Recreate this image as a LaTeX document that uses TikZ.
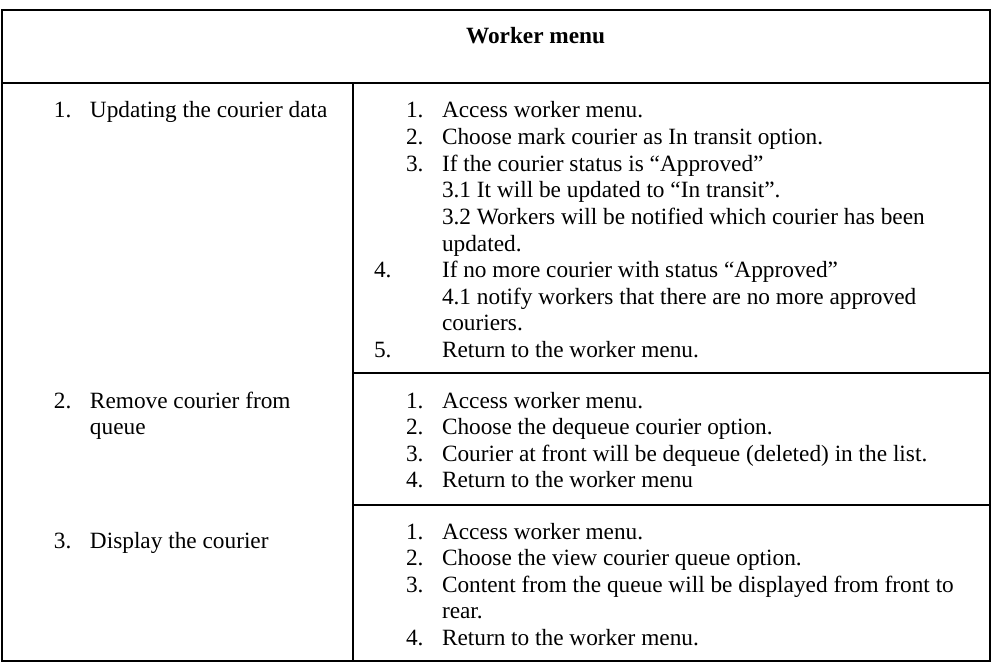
\documentclass[tikz,border=0pt]{standalone}
\usepackage{fontspec}
\setmainfont{Liberation Serif}
\usetikzlibrary{positioning}

\begin{document}
\begin{tikzpicture}[x=0.5pt, y=-0.5pt, line width=1pt,
    celltext/.style={anchor=base west, inner sep=0pt, font=\fontsize{11.65}{13.3}\selectfont},
    headtext/.style={celltext, font=\fontsize{11.65}{13.3}\selectfont\bfseries}]

\useasboundingbox (0,0) rectangle (993,664);

% Table frame and rules
\draw (2,10) rectangle (990,661);
\draw (2,83) -- (990,83);
\draw (353,83) -- (353,661);
% Row rules only in the right column
\draw (353,373) -- (990,373);
\draw (353,505) -- (990,505);

% Header
\node[headtext] (head) at (465,43) {Worker menu};

% Left column: the menu options
\node[celltext] (opt1num) at (53,118) {1.};
\node[celltext] (opt1) at (89,118) {Updating the courier data};
\node[celltext] (opt2num) at (53,408) {2.};
\node[celltext] (opt2) at (89,408) {Remove courier from};
\node[celltext] (opt2b) at (89,434.6) {queue};
\node[celltext] (opt3num) at (53,548) {3.};
\node[celltext] (opt3) at (89,548) {Display the courier};

% Right column, row 1: updating the courier data
\foreach \k/\nx/\num/\txt in {
    0/405/1./{Access worker menu.},
    1/405/2./{Choose mark courier as In transit option.},
    2/405/3./{If the courier status is “Approved”},
    3/405//{3.1 It will be updated to “In transit”.},
    4/405//{3.2 Workers will be notified which courier has been},
    5/405//{updated.},
    6/373/4./{If no more courier with status “Approved”},
    7/373//{4.1 notify workers that there are no more approved},
    8/373//{couriers.},
    9/373/5./{Return to the worker menu.}} {
    \pgfmathsetmacro{\ly}{118+26.6*\k}
    \node[celltext] (upnum\k) at (\nx,\ly) {\num};
    \node[celltext] (up\k) at (441,\ly) {\txt};
}

% Right column, row 2: remove courier from queue
\foreach \k/\txt in {
    0/{Access worker menu.},
    1/{Choose the dequeue courier option.},
    2/{Courier at front will be dequeue (deleted) in the list.},
    3/{Return to the worker menu}} {
    \pgfmathsetmacro{\ly}{408+26.6*\k}
    \pgfmathtruncatemacro{\n}{\k+1}
    \node[celltext] (rmnum\k) at (405,\ly) {\n.};
    \node[celltext] (rm\k) at (441,\ly) {\txt};
}

% Right column, row 3: display the courier
\foreach \k/\num/\txt in {
    0/1./{Access worker menu.},
    1/2./{Choose the view courier queue option.},
    2/3./{Content from the queue will be displayed from front to},
    3//{rear.},
    4/4./{Return to the worker menu.}} {
    \pgfmathsetmacro{\ly}{539+26.6*\k}
    \node[celltext] (shnum\k) at (405,\ly) {\num};
    \node[celltext] (sh\k) at (441,\ly) {\txt};
}

\end{tikzpicture}
\end{document}
